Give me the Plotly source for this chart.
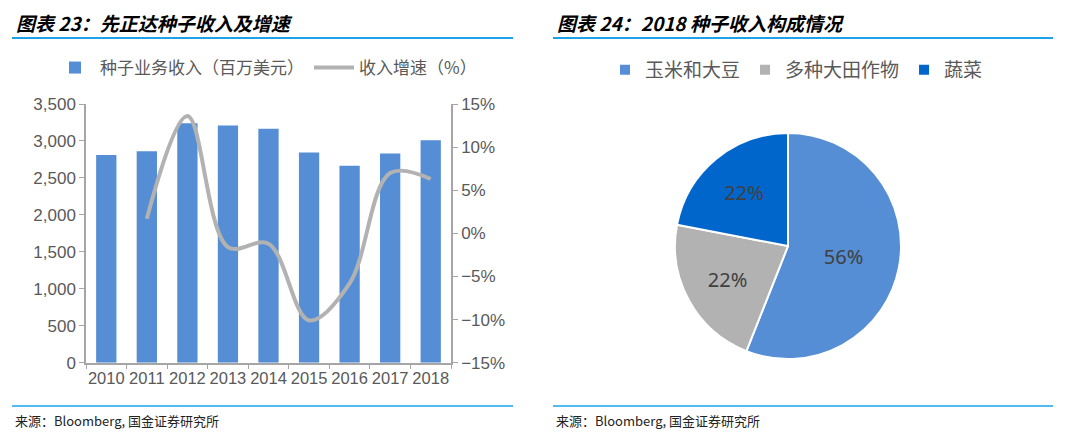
import plotly.graph_objects as go

# left panel: seed revenue and growth
years = ['2010', '2011', '2012', '2013', '2014', '2015', '2016', '2017', '2018']
seed_revenue = [2810, 2860, 3240, 3210, 3165, 2845, 2665, 2830, 3010]
growth_years = ['2011', '2012', '2013', '2014', '2015', '2016', '2017', '2018']
growth_pct = [1.7, 13.6, -1.6, -1.2, -10.1, -5.8, 7.0, 6.3]

# right panel: 2018 revenue mix
mix_labels = ['玉米和大豆', '多种大田作物', '蔬菜']
mix_values = [56, 22, 22]

# page body has an 8px margin, so the figure is shifted by that much
OFF = 8
W, H = 1064, 422
FONT = 'Liberation Sans, Arial, Noto Sans CJK SC, sans-serif'
CJK = 'Noto Sans CJK SC, sans-serif'
GREY_TXT = '#595959'
AXIS = '#a6a6a6'
RULE = '#1aa3e8'

def px_x(v):
    return (v - OFF) / W

def px_y(v):
    return 1 - (v - OFF) / H

fig = go.Figure()

fig.add_trace(go.Bar(
    x=years, y=seed_revenue, name='种子业务收入（百万美元）',
    marker=dict(color='#558ed5', line=dict(width=0)),
    legend='legend',
))
fig.add_trace(go.Scatter(
    x=growth_years, y=growth_pct, name='收入增速（%）', yaxis='y2',
    mode='lines', line=dict(color='#b2b2b2', width=4, shape='spline', smoothing=1),
    legend='legend',
))
fig.add_trace(go.Pie(
    labels=mix_labels, values=mix_values, sort=False, direction='clockwise',
    rotation=0,
    marker=dict(colors=['#558ed5', '#b2b2b2', '#0066cc'], line=dict(color='white', width=2)),
    textinfo='percent', texttemplate='%{percent:.0%}', textposition='inside',
    insidetextorientation='horizontal',
    textfont=dict(size=20, color='#404040', family='Noto Sans, sans-serif'),
    domain=dict(x=[px_x(675), px_x(901)], y=[px_y(360), px_y(132)]),
    legend='legend2', hoverinfo='label+percent',
))

fig.update_layout(
    width=W, height=H, margin=dict(l=0, r=0, t=0, b=0, autoexpand=False),
    paper_bgcolor='white', plot_bgcolor='white',
    font=dict(family=FONT, color=GREY_TXT, size=17),
    bargap=0.5,
    xaxis=dict(
        domain=[px_x(86), px_x(451)], type='category', categoryorder='array',
        categoryarray=years, showline=True, linecolor=AXIS, linewidth=1.5,
        ticks='outside', tickson='boundaries', tickcolor=AXIS, ticklen=5,
        showgrid=False, tickangle=0, automargin=False,
        tickfont=dict(size=16.5, color=GREY_TXT),
    ),
    yaxis=dict(
        domain=[px_y(362.7), px_y(104)], range=[0, 3500], dtick=500,
        tickformat=',', showline=True, linecolor=AXIS, linewidth=1.5,
        ticks='outside', tickcolor=AXIS, ticklen=5, showgrid=False,
        zeroline=False, automargin=False, tickfont=dict(size=17, color=GREY_TXT),
    ),
    yaxis2=dict(
        overlaying='y', side='right', anchor='x', range=[-15, 15], dtick=5,
        ticksuffix='%', showline=True, linecolor=AXIS, linewidth=1.5,
        ticks='outside', tickcolor=AXIS, ticklen=5, showgrid=False,
        zeroline=False, automargin=False, tickfont=dict(size=17, color=GREY_TXT),
    ),
    legend=dict(
        orientation='h', x=px_x(50), y=px_y(68), xanchor='left', yanchor='middle',
        font=dict(family=CJK, size=17, color=GREY_TXT), bgcolor='rgba(0,0,0,0)',
        itemwidth=40, tracegroupgap=0,
    ),
    legend2=dict(
        orientation='h', x=px_x(605), y=px_y(70), xanchor='left', yanchor='middle',
        font=dict(family=CJK, size=19, color=GREY_TXT), bgcolor='rgba(0,0,0,0)',
        itemwidth=30,
    ),
    showlegend=True,
)

# rules, titles and source lines for both panels
for x0, x1 in [(12, 513), (553, 1053)]:
    for yy, lw in [(6, 2), (38, 2), (406, 1.5)]:
        fig.add_shape(type='line', xref='paper', yref='paper',
                      x0=px_x(x0), x1=px_x(x1), y0=px_y(yy), y1=px_y(yy),
                      line=dict(color=RULE, width=lw))

titles = [(14, '图表 23：先正达种子收入及增速'), (555, '图表 24：2018 种子收入构成情况')]
for x0, txt in titles:
    fig.add_annotation(text='<b><i>' + txt + '</i></b>', xref='paper', yref='paper',
                       x=px_x(x0), y=px_y(22), xanchor='left', yanchor='middle',
                       showarrow=False, font=dict(family=CJK, size=19, color='black'))

for x0 in [13, 554]:
    fig.add_annotation(text='来源：Bloomberg, 国金证券研究所', xref='paper', yref='paper',
                       x=px_x(x0), y=px_y(420), xanchor='left', yanchor='middle',
                       showarrow=False, font=dict(family=CJK, size=13, color='#222222'))

fig.write_html('out.html')
